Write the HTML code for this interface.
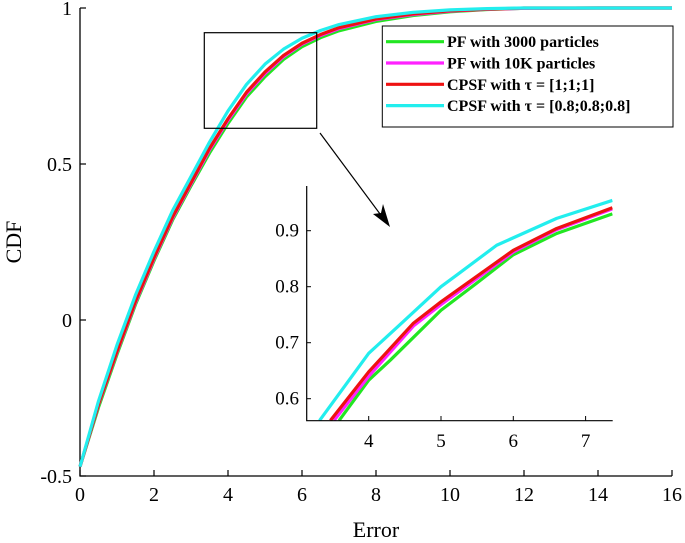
<!DOCTYPE html>
<html><head><meta charset="utf-8"><style>
body{margin:0;background:#fff}
svg{display:block;font-family:"Liberation Serif",serif}
</style></head><body>
<svg id="chart" width="685" height="543" viewBox="0 0 685 543" xmlns="http://www.w3.org/2000/svg">
<g id="main"></g>
<g id="inset"></g>
<g id="legend"></g>
<g id="ann"></g>
</svg>
<script>
const mainX=[0,0.5,1,1.5,2,2.5,3,3.5,4,4.5,5,5.5,6,6.5,7,8,9,10,11,12,14,16];
const cyanMain=[-0.47,-0.26,-0.08,0.08,0.22,0.35,0.46,0.57,0.67,0.755,0.82,0.868,0.903,0.928,0.947,0.972,0.986,0.994,0.998,1,1,1];
const redMain=[-0.47,-0.27,-0.10,0.06,0.20,0.33,0.44,0.55,0.645,0.73,0.795,0.848,0.887,0.915,0.937,0.965,0.981,0.991,0.996,1,1,1];
const magentaMain=[-0.47,-0.272,-0.103,0.056,0.196,0.326,0.436,0.545,0.64,0.725,0.79,0.844,0.884,0.912,0.934,0.963,0.979,0.99,0.996,0.999,1,1];
const greenMain=[-0.47,-0.28,-0.11,0.05,0.19,0.32,0.43,0.535,0.63,0.715,0.78,0.835,0.876,0.905,0.927,0.957,0.976,0.988,0.995,0.999,1,1];
const mainXTicks=[0,2,4,6,8,10,12,14,16];
const mainYTicks=[-0.5,0,0.5,1];
const cyanInX=[3.32,4,4.43,5,5.22,5.77,6.6,7.37];
const cyanIn=[0.561,0.681,0.732,0.80,0.821,0.874,0.922,0.954];
const redInX=[3.47,4,4.62,5,6,6.6,7.37];
const redIn=[0.561,0.648,0.735,0.773,0.865,0.904,0.941];
const magentaInX=[3.52,4,4.62,5,6,6.6,7.37];
const magentaIn=[0.561,0.640,0.730,0.768,0.862,0.902,0.939];
const greenInX=[3.59,4,4.3,5,5.49,6,6.6,7.37];
const greenIn=[0.561,0.633,0.669,0.758,0.806,0.857,0.895,0.930];
const insetXTicks=[4,5,6,7];
const insetYTicks=[0.6,0.7,0.8,0.9];
const legendLabels=["PF with 3000 particles","PF with 10K particles","CPSF with τ = [1;1;1]","CPSF with τ = [0.8;0.8;0.8]"];
const colors=["#22e622","#ff22ff","#ee1111","#22eeee"];

const NS="http://www.w3.org/2000/svg";
function mk(t,a,p){const e=document.createElementNS(NS,t);for(const k in a)e.setAttribute(k,a[k]);p.appendChild(e);return e;}
const mx=v=>80+v*37, my=v=>320-v*312;
const ix=v=>368.7+(v-4)*72.3, iy=v=>230.7-(v-0.9)*560;
const main=document.getElementById('main'), inset=document.getElementById('inset'), leg=document.getElementById('legend'), ann=document.getElementById('ann');

function series(xs,ys,fx,fy,col,parent,name){
  const p=mk('polyline',{points:xs.map((x,i)=>fx(x)+','+fy(ys[i])).join(' '),fill:'none',stroke:col,'stroke-width':3.2,'stroke-linejoin':'round'},parent);
  
  
}
let a=mk('path',{d:'M80,8V476H672',fill:'none',stroke:'#000','stroke-width':1.3},main);


mainXTicks.forEach(t=>{
  mk('line',{x1:mx(t),x2:mx(t),y1:476,y2:470,stroke:'#000','stroke-width':1.2},main);
  const tx=mk('text',{x:mx(t),y:501,'text-anchor':'middle','font-size':20},main);tx.textContent=t;
  
  
});
mainYTicks.forEach(t=>{
  mk('line',{x1:80,x2:86,y1:my(t),y2:my(t),stroke:'#000','stroke-width':1.2},main);
  const tx=mk('text',{x:72,y:my(t)+7,'text-anchor':'end','font-size':20},main);tx.textContent=t;
  
  
});
let xt=mk('text',{x:376,y:537,'text-anchor':'middle','font-size':22},main);xt.textContent='Error';


let yt=mk('text',{x:0,y:0,'text-anchor':'middle','font-size':22,transform:'translate(21,242) rotate(-90)'},main);yt.textContent='CDF';


series(mainX,greenMain,mx,my,colors[0],main,'line-pf-3000');
series(mainX,magentaMain,mx,my,colors[1],main,'line-pf-10k');
series(mainX,redMain,mx,my,colors[2],main,'line-cpsf-1');
series(mainX,cyanMain,mx,my,colors[3],main,'line-cpsf-08');

// inset
const cp=mk('clipPath',{id:'ic'},inset);mk('rect',{x:306.7,y:186,width:306,height:235},cp);
const ig=mk('g',{'clip-path':'url(#ic)'},inset);
series(greenInX,greenIn,ix,iy,colors[0],ig,'inset-line-pf-3000');
series(magentaInX,magentaIn,ix,iy,colors[1],ig,'inset-line-pf-10k');
series(redInX,redIn,ix,iy,colors[2],ig,'inset-line-cpsf-1');
series(cyanInX,cyanIn,ix,iy,colors[3],ig,'inset-line-cpsf-08');
let ia=mk('path',{d:'M306.7,186V420.7H612.7',fill:'none',stroke:'#000','stroke-width':1.2},inset);


insetXTicks.forEach(t=>{
  mk('line',{x1:ix(t),x2:ix(t),y1:420.7,y2:416,stroke:'#000','stroke-width':1},inset);
  const tx=mk('text',{x:ix(t),y:447,'text-anchor':'middle','font-size':19},inset);tx.textContent=t;
  
  
});
insetYTicks.forEach(t=>{
  mk('line',{x1:306.7,x2:311,y1:iy(t),y2:iy(t),stroke:'#000','stroke-width':1},inset);
  const tx=mk('text',{x:299,y:iy(t)+6,'text-anchor':'end','font-size':19},inset);tx.textContent=t.toFixed(1);
  
  
});

// legend
mk('rect',{x:382.3,y:26,width:290.7,height:101,fill:'#fff',stroke:'#000','stroke-width':1},leg);
legendLabels.forEach((l,i)=>{
  const y=41.7+i*21.3;
  const g=mk('g',{},leg);
  
  
  mk('line',{x1:386,x2:444,y1:y,y2:y,stroke:colors[i],'stroke-width':3.2},g);
  const tx=mk('text',{x:447,y:y+5.5,'font-size':16,'font-weight':'bold'},g);tx.textContent=l;
});

// zoom rectangle and arrow
let zr=mk('rect',{x:204.3,y:32.7,width:112.4,height:95.6,fill:'none',stroke:'#000','stroke-width':1.2},ann);


let ar=mk('line',{x1:320,y1:133,x2:386,y2:222,stroke:'#000','stroke-width':1.2},ann);


mk('path',{d:'M390,227 L373,214 L381,213 L383,204 Z',fill:'#000'},ann);
</script>
</body></html>
